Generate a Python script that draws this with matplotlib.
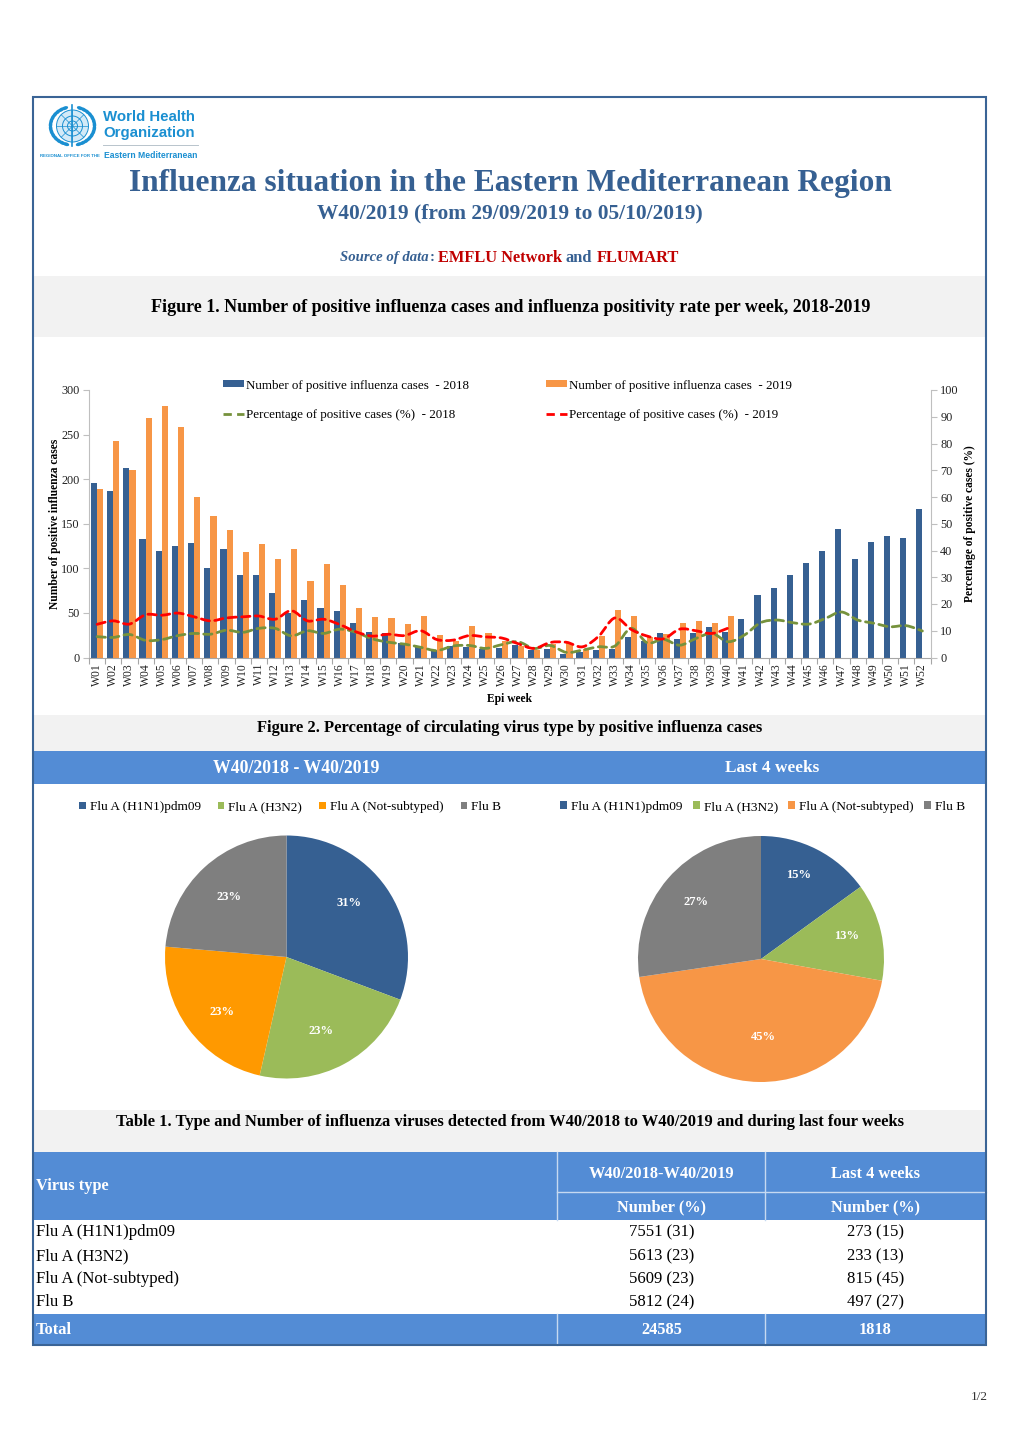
import numpy as np
import matplotlib
matplotlib.use("Agg")
import matplotlib.pyplot as plt
from matplotlib.lines import Line2D
from matplotlib.patches import Circle, Ellipse, PathPatch, Rectangle
from matplotlib.path import Path

plt.rcParams['font.family'] = ['Liberation Serif', 'DejaVu Serif']

weeks = ["W%02d" % w for w in range(1, 53)]
cases_2018 = [196, 187, 213, 133, 120, 125, 128, 100, 122, 93, 92, 72, 50, 65, 55, 52, 39, 29,
              27, 16, 13, 8, 13, 12, 10, 11, 14, 8, 10, 4, 6, 8, 9, 23, 19, 28, 21, 28, 34, 29,
              43, 70, 78, 92, 106, 119, 144, 111, 129, 136, 134, 166]
cases_2019 = [189, 243, 210, 269, 282, 259, 180, 159, 143, 118, 127, 111, 122, 86, 105, 81, 55, 45,
              44, 38, 47, 25, 19, 35, 27, 19, 13, 8, 15, 16, 10, 24, 53, 47, 23, 26, 39, 41, 39, 47]
pct_2018 = [7.8, 7.5, 8.6, 6.4, 6.7, 8.2, 9, 8.7, 10.2, 9.4, 10.9, 10.9, 8.1, 10, 9, 10.6, 9.4, 7,
            5.7, 5, 3.8, 2.6, 4.3, 4.5, 3.4, 4.8, 5.9, 3.4, 4.5, 1.9, 2.8, 4, 4.3, 10.9, 5.5, 6.8,
            4.6, 7.1, 9, 5.9, 8.4, 13, 14, 13, 12.5, 14.6, 17, 14, 12.8, 11.5, 11.9, 9.9]
pct_2019 = [12.4, 13.7, 12.5, 16, 15.8, 16.6, 15.2, 13.7, 14.8, 15.2, 15.5, 14.3, 17.5, 13.7, 14.3,
            12.3, 9.6, 8, 8.7, 8.2, 10, 6.7, 6.5, 8.2, 7.7, 7.3, 5.2, 3.4, 5.6, 5.7, 4, 8, 14.8,
            10.5, 8, 7, 10.6, 10, 9, 11]

virus_types = ["Flu A (H1N1)pdm09", "Flu A (H3N2)", "Flu A (Not-subtyped)", "Flu B"]
year_numbers = [7551, 5613, 5609, 5812]
year_labels = ["31%", "23%", "23%", "23%"]
last4_numbers = [273, 233, 815, 497]
last4_labels = ["15%", "13%", "45%", "27%"]
year_cells = ["7551 (31)", "5613 (23)", "5609 (23)", "5812 (24)"]
last4_cells = ["273 (15)", "233 (13)", "815 (45)", "497 (27)"]

BLUE = "#366092"
ORANGE = "#F79646"
BAND = "#538CD5"
GREY_BAND = "#F2F2F2"
WHO = "#1A8FD1"
W, H = 1020, 1442

fig = plt.figure(figsize=(W / 100, H / 100), dpi=100)
page = fig.add_axes([0, 0, 1, 1])
page.set_xlim(0, W)
page.set_ylim(H, 0)
page.axis("off")


def px_axes(x0, y0, x1, y1):
    # axes placed from pixel corners of the page
    a = fig.add_axes([x0 / W, 1 - y1 / H, (x1 - x0) / W, (y1 - y0) / H])
    a.patch.set_visible(False)
    return a


def box(x0, y0, x1, y1, color):
    page.add_patch(Rectangle((x0, y0), x1 - x0, y1 - y0, fc=color, ec="none", zorder=1))


def txt(x, y, s, size=11, color="black", weight="normal", ha="center", **kw):
    page.text(x, y + 1.5, s, fontsize=size, color=color, fontweight=weight, ha=ha, va="center", zorder=5, **kw)


def smooth_line(ax, xs, ys, color):
    # smoothed line through the points, same look as the office chart
    xs, ys = np.asarray(xs, float), np.asarray(ys, float)
    verts = [(xs[0], ys[0])]
    codes = [Path.MOVETO]
    for i in range(len(xs) - 1):
        a, b = max(i - 1, 0), min(i + 2, len(xs) - 1)
        verts += [(xs[i] + (xs[i + 1] - xs[a]) / 6, ys[i] + (ys[i + 1] - ys[a]) / 6),
                  (xs[i + 1] - (xs[b] - xs[i]) / 6, ys[i + 1] - (ys[b] - ys[i]) / 6),
                  (xs[i + 1], ys[i + 1])]
        codes += [Path.CURVE4] * 3
    ax.add_patch(PathPatch(Path(verts, codes), fc="none", ec=color, lw=2.0,
                           ls=(0, (3.0, 1.9)), capstyle="round"))


# page frame and bands
box(33, 276, 986, 337, GREY_BAND)
box(33, 715, 986, 751, GREY_BAND)
box(33, 751, 986, 784, BAND)
box(33, 1110, 986, 1152, GREY_BAND)
box(33, 1152, 986, 1220, BAND)
box(33, 1314, 986, 1345, BAND)
page.add_patch(Rectangle((33, 97), 953, 1248, fc="none", ec="#3A6496", lw=1.5, zorder=6))

# logo
page.add_patch(Circle((72.5, 126), 16, fc="#D3EAF7", ec=WHO, lw=0.7, zorder=3))
for r in (5, 10):
    page.add_patch(Circle((72.5, 126), r, fc="none", ec=WHO, lw=0.7, zorder=3))
for ang in np.arange(0, 180, 45):
    dx, dy = 16 * np.cos(np.radians(ang)), 16 * np.sin(np.radians(ang))
    page.plot([72.5 - dx, 72.5 + dx], [126 - dy, 126 + dy], color=WHO, lw=0.5, zorder=3)
page.plot([72.5, 72.5], [105, 146], color=WHO, lw=1.2, zorder=4)
for side in (-1, 1):
    for ang in np.arange(-70, 75, 11):
        ex = 72.5 + side * 22 * np.cos(np.radians(ang))
        ey = 126 + 19 * np.sin(np.radians(ang))
        page.add_patch(Ellipse((ex, ey), 3.6, 6.5, angle=side * ang, fc=WHO, ec="none", zorder=3))
sans = ['Liberation Sans', 'DejaVu Sans']
txt(103, 115.5, "World Health", 10.8, WHO, "bold", ha="left", family=sans)
txt(103, 131.5, "Organization", 10.8, WHO, "bold", ha="left", family=sans)
page.plot([103, 198], [145, 145], color="#B8C4CC", lw=0.7, zorder=3)
txt(40, 154.5, "REGIONAL OFFICE FOR THE", 3.2, WHO, "bold", ha="left", family=sans)
txt(104, 153.5, "Eastern Mediterranean", 6.2, WHO, "bold", ha="left", family=sans)

# headings
txt(510, 181.5, "Influenza situation in the Eastern Mediterranean Region", 22.6, BLUE, "bold")
txt(510, 212, "W40/2019 (from 29/09/2019 to 05/10/2019)", 15.4, BLUE, "bold")
txt(340, 256, "Source of data", 10.6, BLUE, "bold", ha="left", style="italic")
txt(430, 256, ":", 10.6, BLUE, "bold", ha="left")
txt(438, 256, "EMFLU Network", 11.8, "#C00000", "bold", ha="left")
txt(566, 256, "and", 11.8, BLUE, "bold", ha="left")
txt(597, 256, "FLUMART", 11.8, "#C00000", "bold", ha="left")
txt(511, 306, "Figure 1. Number of positive influenza cases and influenza positivity rate per week, 2018-2019", 13.0, weight="bold")
txt(510, 726, "Figure 2. Percentage of circulating virus type by positive influenza cases", 11.9, weight="bold")
txt(296, 767, "W40/2018 - W40/2019", 12.8, "white", "bold")
txt(772, 767, "Last 4 weeks", 12.4, "white", "bold")
txt(510, 1121, "Table 1. Type and Number of influenza viruses detected from W40/2018 to W40/2019 and during last four weeks", 11.9, weight="bold")
txt(988, 1395, "1/2", 9.5, "#333333", ha="right")

# Figure 1: bars on the left axis, percentages on the right one
ax = px_axes(89, 390, 930.5, 657.5)
pos = np.arange(52)
ax.bar(pos - 0.19, cases_2018, 0.38, color=BLUE)
ax.bar(pos[:len(cases_2019)] + 0.19, cases_2019, 0.38, color=ORANGE)
ax.set_xlim(-0.5, 51.5)
ax.set_ylim(0, 300)
ax.set_yticks(range(0, 301, 50))
ax.set_xticks(np.arange(-0.5, 52, 1))
ax.set_xticklabels([])
ax.set_xticks(pos, minor=True)
ax.set_xticklabels(weeks, minor=True, rotation=90, fontsize=8.4, color="#222222")
ax.tick_params(axis="x", which="minor", length=0, pad=4)
ax.tick_params(axis="x", which="major", length=4, width=0.8, color="#A6A6A6")
ax.tick_params(axis="y", length=4, width=0.8, color="#BFBFBF", labelsize=8.8, labelcolor="#222222", pad=3)
ax.set_ylabel("Number of positive influenza cases", fontsize=8.3, fontweight="bold", labelpad=0)
ax.set_xlabel("Epi week", fontsize=8.3, fontweight="bold", labelpad=5)
ax.spines["top"].set_visible(False)
ax.spines["right"].set_visible(False)
ax.spines["left"].set_color("#BFBFBF")
ax.spines["bottom"].set_color("#A6A6A6")

ax2 = ax.twinx()
ax2.patch.set_visible(False)
ax2.set_ylim(0, 100)
ax2.set_yticks(range(0, 101, 10))
ax2.tick_params(axis="y", length=4, width=0.8, color="#BFBFBF", labelsize=8.8, labelcolor="#222222", pad=3)
ax2.set_ylabel("Percentage of positive cases (%)", fontsize=8.3, fontweight="bold", labelpad=4)
ax2.spines["top"].set_visible(False)
ax2.spines["left"].set_visible(False)
ax2.spines["bottom"].set_visible(False)
ax2.spines["right"].set_color("#BFBFBF")
smooth_line(ax2, pos, pct_2018, "#76923C")
smooth_line(ax2, pos[:len(pct_2019)], pct_2019, "#FF0000")

dash = dict(lw=2.0, ls=(0, (3.0, 1.9)))
handles = [Rectangle((0, 0), 1, 1, fc=BLUE), Line2D([], [], color="#76923C", **dash),
           Rectangle((0, 0), 1, 1, fc=ORANGE), Line2D([], [], color="#FF0000", **dash)]
labels = ["Number of positive influenza cases  - 2018", "Percentage of positive cases (%)  - 2018",
          "Number of positive influenza cases  - 2019", "Percentage of positive cases (%)  - 2019"]
ax2.legend(handles, labels, ncol=2, frameon=False, fontsize=9.4, loc="upper left",
           bbox_to_anchor=(223 / W, 1 - 379.5 / H), bbox_transform=fig.transFigure,
           borderpad=0, borderaxespad=0, handlelength=1.6, handleheight=0.45,
           handletextpad=0.15, columnspacing=5.9, labelspacing=1.35)


def pie_chart(cx, cy, r, values, colors, texts, spots, legend_x, font, gap):
    a = px_axes(cx - r, cy - r, cx + r, cy + r)
    wedges, _ = a.pie(values, colors=colors, startangle=90, counterclock=False, radius=1)
    a.set_xlim(-1, 1)
    a.set_ylim(-1, 1)
    for s, (x, y) in zip(texts, spots):
        a.text(x, y, s, fontsize=9, color="white", fontweight="bold", ha="center", va="center",
               transform=page.transData)
    page.legend(wedges, virus_types, ncol=4, frameon=False, fontsize=font, loc="center left",
                bbox_to_anchor=(legend_x / W, 1 - 807 / H), bbox_transform=fig.transFigure,
                borderpad=0, borderaxespad=0, handlelength=0.5, handleheight=0.5,
                handletextpad=0.3, columnspacing=gap)


pie_chart(286.5, 957, 121.5, year_numbers, [BLUE, "#9BBB59", "#FF9900", "#7F7F7F"], year_labels,
          [(349, 903), (321, 1031), (222, 1012), (229, 897)], 79, 9.5, 1.3)
# page.legend only keeps the last one, so the first has to be re-added
first_legend = page.get_legend()
page.add_artist(first_legend)
pie_chart(761, 959, 123, last4_numbers, [BLUE, "#9BBB59", ORANGE, "#7F7F7F"], last4_labels,
          [(799, 875), (847, 936), (763, 1037), (696, 902)], 560, 9.6, 0.8)

# Table 1
for x in (557, 765):
    page.plot([x, x], [1152, 1220], color="#C6D9F1", lw=1, zorder=3)
    page.plot([x, x], [1314, 1345], color="#C6D9F1", lw=1, zorder=3)
page.plot([557, 986], [1192, 1192], color="#C6D9F1", lw=1, zorder=3)
c1, c2 = 661.5, 875.5
txt(36, 1185, "Virus type", 11.8, "white", "bold", ha="left")
txt(c1, 1172, "W40/2018-W40/2019", 11.8, "white", "bold")
txt(c2, 1172, "Last 4 weeks", 11.8, "white", "bold")
txt(c1, 1206, "Number (%)", 11.8, "white", "bold")
txt(c2, 1206, "Number (%)", 11.8, "white", "bold")
# baseline alignment so all cells of a row sit on one line
for y, name, v1, v2 in zip((1236, 1260, 1283, 1306), virus_types, year_cells, last4_cells):
    page.text(36, y, name, fontsize=12, ha="left", va="baseline", zorder=5)
    page.text(c1, y, v1, fontsize=12, ha="center", va="baseline", zorder=5)
    page.text(c2, y, v2, fontsize=12, ha="center", va="baseline", zorder=5)
txt(36, 1328, "Total", 11.8, "white", "bold", ha="left")
txt(c1, 1328, "24585", 11.8, "white", "bold")
txt(c2, 1328, "1818", 11.8, "white", "bold")

fig.savefig("out.png", dpi=100)
